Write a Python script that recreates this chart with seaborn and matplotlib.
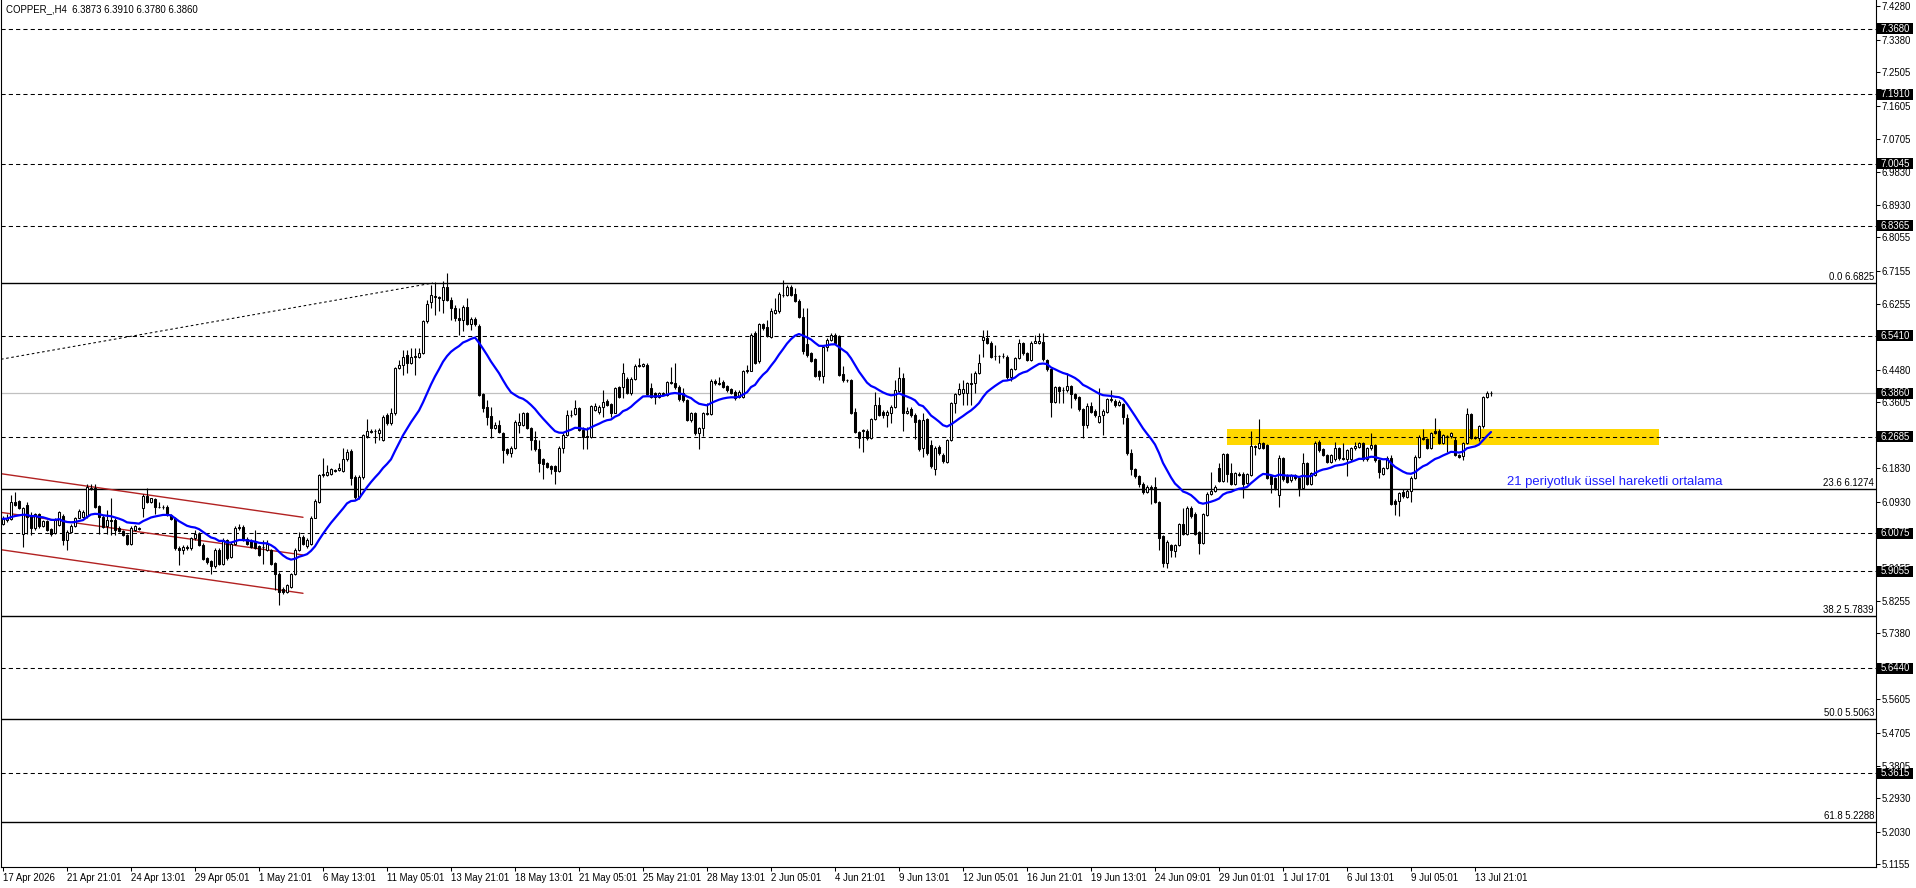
import numpy as np
import pandas as pd
import matplotlib
matplotlib.use("Agg")
import matplotlib.pyplot as plt
import matplotlib.transforms as mtransforms
from matplotlib.patches import Rectangle
import seaborn as sns

# ---------------- data ----------------
symbol_title = "COPPER_,H4  6.3873 6.3910 6.3780 6.3860"

opens = [
    6.034, 6.043, 6.047, 6.093, 6.094, 6.007, 6.084, 6.054, 6.021, 6.059,
    6.028, 6.040, 6.020, 6.009, 6.030, 6.054, 5.991, 6.012, 6.027, 6.050,
    6.052, 6.054, 6.131, 6.129, 6.081, 6.052, 6.027, 6.043, 6.045, 6.023,
    6.014, 6.003, 5.978, 6.016, 6.021, 6.075, 6.108, 6.093, 6.099, 6.080,
    6.079, 6.079, 6.056, 6.048, 5.969, 5.962, 5.970, 5.967, 5.994, 6.007,
    5.977, 5.940, 5.933, 5.919, 5.964, 5.924, 5.989, 5.944, 5.980, 6.022,
    6.025, 5.993, 5.987, 5.985, 5.973, 5.972, 5.962, 5.962, 5.928, 5.899,
    5.859, 5.850, 5.863, 5.897, 5.962, 5.998, 5.973, 5.978, 6.050, 6.093,
    6.165, 6.165, 6.169, 6.179, 6.178, 6.176, 6.207, 6.230, 6.160, 6.106,
    6.160, 6.270, 6.284, 6.284, 6.277, 6.259, 6.327, 6.304, 6.331, 6.453,
    6.462, 6.489, 6.466, 6.485, 6.484, 6.493, 6.579, 6.630, 6.644, 6.645,
    6.637, 6.673, 6.637, 6.615, 6.588, 6.583, 6.617, 6.572, 6.585, 6.567,
    6.383, 6.349, 6.324, 6.293, 6.300, 6.277, 6.234, 6.225, 6.237, 6.300,
    6.300, 6.333, 6.291, 6.259, 6.234, 6.207, 6.196, 6.189, 6.189, 6.176,
    6.239, 6.273, 6.327, 6.329, 6.345, 6.286, 6.269, 6.268, 6.340, 6.336,
    6.349, 6.365, 6.356, 6.333, 6.401, 6.403, 6.423, 6.385, 6.423, 6.461,
    6.459, 6.462, 6.399, 6.387, 6.376, 6.386, 6.381, 6.415, 6.414, 6.403,
    6.387, 6.367, 6.313, 6.333, 6.277, 6.291, 6.329, 6.329, 6.419, 6.413,
    6.417, 6.405, 6.396, 6.390, 6.376, 6.376, 6.444, 6.446, 6.547, 6.471,
    6.572, 6.565, 6.538, 6.601, 6.606, 6.651, 6.651, 6.673, 6.653, 6.635,
    6.592, 6.518, 6.493, 6.477, 6.444, 6.432, 6.509, 6.529, 6.543, 6.540,
    6.437, 6.422, 6.421, 6.336, 6.280, 6.285, 6.284, 6.264, 6.315, 6.354,
    6.336, 6.328, 6.333, 6.349, 6.392, 6.426, 6.333, 6.342, 6.327, 6.313,
    6.237, 6.315, 6.246, 6.180, 6.241, 6.219, 6.201, 6.259, 6.358, 6.383,
    6.387, 6.387, 6.413, 6.412, 6.439, 6.529, 6.534, 6.522, 6.487, 6.486,
    6.487, 6.484, 6.428, 6.450, 6.480, 6.520, 6.493, 6.475, 6.522, 6.522,
    6.524, 6.475, 6.450, 6.363, 6.401, 6.395, 6.394, 6.405, 6.383, 6.374,
    6.342, 6.300, 6.351, 6.338, 6.309, 6.327, 6.336, 6.370, 6.365, 6.354,
    6.356, 6.318, 6.223, 6.180, 6.162, 6.142, 6.120, 6.133, 6.133, 6.093,
    6.000, 5.928, 5.976, 5.960, 5.976, 6.032, 6.007, 6.075, 6.061, 6.012,
    5.982, 6.057, 6.113, 6.122, 6.185, 6.149, 6.221, 6.171, 6.140, 6.168,
    6.169, 6.144, 6.165, 6.242, 6.238, 6.252, 6.246, 6.162, 6.156, 6.111,
    6.210, 6.165, 6.151, 6.165, 6.156, 6.129, 6.198, 6.142, 6.165, 6.255,
    6.234, 6.219, 6.201, 6.207, 6.237, 6.210, 6.207, 6.207, 6.237, 6.241,
    6.252, 6.207, 6.237, 6.246, 6.205, 6.169, 6.183, 6.212, 6.095, 6.095,
    6.120, 6.106, 6.122, 6.158, 6.214, 6.264, 6.261, 6.239, 6.284, 6.284,
    6.252, 6.271, 6.270, 6.259, 6.219, 6.216, 6.252, 6.329, 6.267, 6.266,
    6.297, 6.374, 6.3873,
]

highs = [
    6.054, 6.059, 6.111, 6.120, 6.097, 6.079, 6.093, 6.066, 6.063, 6.063,
    6.045, 6.043, 6.023, 6.048, 6.068, 6.059, 6.016, 6.032, 6.052, 6.072,
    6.070, 6.142, 6.142, 6.142, 6.084, 6.056, 6.070, 6.102, 6.048, 6.027,
    6.018, 6.005, 6.027, 6.030, 6.025, 6.115, 6.129, 6.104, 6.102, 6.093,
    6.084, 6.083, 6.059, 6.052, 5.973, 5.976, 5.976, 5.998, 6.016, 6.011,
    5.982, 5.944, 5.937, 5.967, 5.969, 5.994, 5.993, 5.985, 6.027, 6.032,
    6.030, 5.998, 5.993, 6.016, 5.976, 5.989, 5.991, 5.966, 5.931, 5.903,
    5.863, 5.872, 5.901, 5.967, 6.012, 6.002, 5.994, 6.054, 6.099, 6.169,
    6.210, 6.192, 6.183, 6.182, 6.196, 6.237, 6.234, 6.234, 6.164, 6.165,
    6.276, 6.315, 6.288, 6.290, 6.291, 6.327, 6.331, 6.345, 6.457, 6.475,
    6.502, 6.502, 6.507, 6.507, 6.507, 6.583, 6.637, 6.678, 6.684, 6.648,
    6.687, 6.709, 6.646, 6.624, 6.615, 6.624, 6.642, 6.592, 6.592, 6.572,
    6.387, 6.367, 6.349, 6.309, 6.313, 6.281, 6.237, 6.243, 6.313, 6.331,
    6.336, 6.336, 6.295, 6.284, 6.259, 6.212, 6.201, 6.193, 6.193, 6.243,
    6.277, 6.340, 6.340, 6.367, 6.349, 6.295, 6.295, 6.354, 6.358, 6.353,
    6.394, 6.369, 6.360, 6.403, 6.405, 6.466, 6.430, 6.428, 6.464, 6.480,
    6.468, 6.466, 6.412, 6.390, 6.390, 6.390, 6.419, 6.457, 6.468, 6.408,
    6.399, 6.371, 6.335, 6.336, 6.295, 6.335, 6.360, 6.423, 6.423, 6.430,
    6.421, 6.408, 6.399, 6.393, 6.394, 6.448, 6.462, 6.549, 6.552, 6.576,
    6.576, 6.583, 6.615, 6.642, 6.657, 6.691, 6.678, 6.678, 6.669, 6.639,
    6.615, 6.615, 6.497, 6.480, 6.448, 6.513, 6.534, 6.549, 6.547, 6.543,
    6.459, 6.425, 6.425, 6.345, 6.283, 6.288, 6.288, 6.318, 6.390, 6.376,
    6.339, 6.339, 6.353, 6.421, 6.457, 6.441, 6.349, 6.349, 6.331, 6.317,
    6.331, 6.318, 6.259, 6.243, 6.245, 6.223, 6.263, 6.362, 6.387, 6.412,
    6.421, 6.416, 6.439, 6.444, 6.491, 6.556, 6.556, 6.525, 6.516, 6.489,
    6.495, 6.489, 6.453, 6.483, 6.531, 6.524, 6.497, 6.525, 6.543, 6.547,
    6.547, 6.479, 6.453, 6.405, 6.405, 6.403, 6.441, 6.408, 6.387, 6.378,
    6.345, 6.360, 6.362, 6.342, 6.399, 6.342, 6.372, 6.394, 6.369, 6.367,
    6.360, 6.329, 6.234, 6.183, 6.165, 6.146, 6.138, 6.137, 6.160, 6.095,
    6.003, 5.989, 5.980, 5.980, 6.036, 6.075, 6.081, 6.081, 6.065, 6.015,
    6.063, 6.119, 6.174, 6.137, 6.198, 6.225, 6.225, 6.198, 6.174, 6.172,
    6.173, 6.171, 6.284, 6.246, 6.315, 6.255, 6.249, 6.165, 6.159, 6.219,
    6.214, 6.168, 6.168, 6.168, 6.159, 6.225, 6.201, 6.174, 6.257, 6.259,
    6.237, 6.222, 6.222, 6.255, 6.240, 6.252, 6.236, 6.240, 6.255, 6.255,
    6.255, 6.240, 6.277, 6.249, 6.209, 6.186, 6.216, 6.219, 6.099, 6.120,
    6.126, 6.126, 6.162, 6.218, 6.272, 6.288, 6.264, 6.282, 6.318, 6.288,
    6.276, 6.274, 6.282, 6.268, 6.222, 6.255, 6.345, 6.333, 6.271, 6.300,
    6.378, 6.392, 6.3910,
]

lows = [
    6.029, 6.039, 6.045, 6.081, 6.072, 5.971, 6.007, 6.003, 6.016, 6.023,
    6.025, 6.013, 6.000, 6.005, 6.027, 5.976, 5.962, 6.009, 6.025, 6.048,
    6.050, 6.050, 6.124, 6.075, 6.007, 6.021, 6.007, 6.003, 6.003, 6.012,
    6.000, 5.976, 5.976, 6.013, 6.016, 6.052, 6.090, 6.090, 6.061, 6.075,
    6.074, 6.054, 6.043, 5.964, 5.922, 5.953, 5.964, 5.964, 5.991, 5.973,
    5.935, 5.926, 5.899, 5.915, 5.922, 5.922, 5.937, 5.940, 5.977, 6.016,
    5.986, 5.976, 5.967, 5.966, 5.946, 5.926, 5.959, 5.923, 5.854, 5.814,
    5.845, 5.847, 5.861, 5.895, 5.959, 5.977, 5.969, 5.976, 6.048, 6.090,
    6.160, 6.162, 6.166, 6.174, 6.175, 6.174, 6.203, 6.138, 6.100, 6.099,
    6.155, 6.266, 6.277, 6.250, 6.259, 6.256, 6.301, 6.301, 6.328, 6.450,
    6.435, 6.439, 6.463, 6.435, 6.481, 6.490, 6.576, 6.615, 6.597, 6.606,
    6.601, 6.634, 6.583, 6.579, 6.543, 6.552, 6.570, 6.556, 6.567, 6.378,
    6.336, 6.300, 6.264, 6.288, 6.277, 6.198, 6.219, 6.214, 6.234, 6.277,
    6.297, 6.288, 6.232, 6.230, 6.174, 6.153, 6.183, 6.169, 6.142, 6.174,
    6.225, 6.270, 6.322, 6.327, 6.283, 6.234, 6.234, 6.264, 6.337, 6.329,
    6.322, 6.351, 6.320, 6.331, 6.372, 6.372, 6.382, 6.381, 6.421, 6.455,
    6.456, 6.380, 6.373, 6.356, 6.373, 6.381, 6.378, 6.410, 6.398, 6.365,
    6.363, 6.310, 6.309, 6.274, 6.234, 6.270, 6.327, 6.327, 6.408, 6.408,
    6.399, 6.390, 6.383, 6.368, 6.372, 6.373, 6.441, 6.444, 6.463, 6.468,
    6.556, 6.536, 6.535, 6.598, 6.603, 6.646, 6.648, 6.648, 6.630, 6.587,
    6.491, 6.484, 6.470, 6.428, 6.421, 6.414, 6.498, 6.526, 6.518, 6.432,
    6.417, 6.416, 6.329, 6.277, 6.237, 6.228, 6.259, 6.261, 6.313, 6.324,
    6.318, 6.295, 6.304, 6.346, 6.390, 6.284, 6.329, 6.322, 6.261, 6.230,
    6.214, 6.219, 6.185, 6.165, 6.219, 6.196, 6.198, 6.256, 6.333, 6.381,
    6.354, 6.354, 6.354, 6.385, 6.436, 6.484, 6.518, 6.480, 6.475, 6.466,
    6.480, 6.425, 6.419, 6.447, 6.477, 6.489, 6.471, 6.471, 6.520, 6.518,
    6.473, 6.446, 6.320, 6.360, 6.358, 6.360, 6.390, 6.345, 6.367, 6.338,
    6.264, 6.293, 6.331, 6.322, 6.306, 6.273, 6.333, 6.363, 6.349, 6.351,
    6.302, 6.220, 6.165, 6.158, 6.133, 6.115, 6.117, 6.086, 6.090, 5.962,
    5.917, 5.915, 5.944, 5.944, 5.973, 6.003, 6.003, 6.050, 6.003, 5.953,
    5.978, 6.054, 6.110, 6.120, 6.146, 6.146, 6.146, 6.138, 6.138, 6.163,
    6.102, 6.140, 6.162, 6.219, 6.236, 6.235, 6.155, 6.117, 6.125, 6.079,
    6.149, 6.143, 6.147, 6.152, 6.108, 6.126, 6.138, 6.138, 6.162, 6.228,
    6.215, 6.197, 6.197, 6.203, 6.206, 6.205, 6.162, 6.203, 6.233, 6.237,
    6.203, 6.203, 6.233, 6.201, 6.156, 6.165, 6.180, 6.084, 6.057, 6.054,
    6.104, 6.102, 6.093, 6.155, 6.210, 6.259, 6.236, 6.236, 6.275, 6.248,
    6.248, 6.228, 6.266, 6.215, 6.210, 6.205, 6.248, 6.263, 6.262, 6.256,
    6.293, 6.372, 6.3780,
]

closes = [
    6.047, 6.050, 6.093, 6.084, 6.075, 6.075, 6.052, 6.021, 6.059, 6.027,
    6.040, 6.016, 6.007, 6.043, 6.066, 5.991, 6.012, 6.028, 6.048, 6.068,
    6.066, 6.133, 6.128, 6.079, 6.052, 6.025, 6.043, 6.041, 6.018, 6.014,
    6.003, 5.978, 6.023, 6.027, 6.020, 6.108, 6.093, 6.102, 6.079, 6.078,
    6.078, 6.057, 6.047, 5.967, 5.962, 5.971, 5.968, 5.994, 6.007, 5.976,
    5.938, 5.931, 5.919, 5.964, 5.924, 5.989, 5.940, 5.980, 6.021, 6.024,
    5.989, 5.980, 5.971, 5.969, 5.949, 5.970, 5.978, 5.926, 5.899, 5.850,
    5.850, 5.868, 5.897, 5.962, 5.998, 5.980, 5.989, 6.050, 6.095, 6.165,
    6.169, 6.174, 6.180, 6.177, 6.185, 6.207, 6.228, 6.158, 6.105, 6.160,
    6.273, 6.283, 6.282, 6.283, 6.286, 6.322, 6.304, 6.333, 6.453, 6.462,
    6.484, 6.466, 6.484, 6.483, 6.495, 6.579, 6.626, 6.651, 6.648, 6.643,
    6.673, 6.637, 6.615, 6.588, 6.583, 6.617, 6.572, 6.585, 6.572, 6.381,
    6.345, 6.322, 6.291, 6.300, 6.282, 6.232, 6.225, 6.238, 6.309, 6.309,
    6.333, 6.291, 6.259, 6.234, 6.196, 6.194, 6.187, 6.180, 6.176, 6.239,
    6.273, 6.327, 6.326, 6.345, 6.286, 6.268, 6.267, 6.351, 6.351, 6.349,
    6.363, 6.354, 6.333, 6.399, 6.374, 6.439, 6.385, 6.423, 6.459, 6.459,
    6.464, 6.383, 6.376, 6.374, 6.385, 6.384, 6.417, 6.413, 6.401, 6.369,
    6.367, 6.313, 6.331, 6.277, 6.291, 6.331, 6.333, 6.419, 6.412, 6.411,
    6.403, 6.394, 6.387, 6.372, 6.390, 6.444, 6.448, 6.543, 6.466, 6.572,
    6.561, 6.540, 6.606, 6.610, 6.653, 6.650, 6.671, 6.651, 6.633, 6.590,
    6.498, 6.489, 6.473, 6.432, 6.432, 6.509, 6.529, 6.543, 6.522, 6.435,
    6.421, 6.420, 6.333, 6.280, 6.264, 6.283, 6.264, 6.315, 6.354, 6.327,
    6.327, 6.336, 6.349, 6.394, 6.426, 6.333, 6.338, 6.327, 6.309, 6.234,
    6.313, 6.223, 6.189, 6.239, 6.223, 6.203, 6.259, 6.358, 6.383, 6.396,
    6.396, 6.412, 6.411, 6.441, 6.466, 6.536, 6.522, 6.482, 6.485, 6.485,
    6.485, 6.428, 6.450, 6.480, 6.520, 6.493, 6.475, 6.522, 6.525, 6.527,
    6.477, 6.450, 6.363, 6.401, 6.392, 6.393, 6.405, 6.383, 6.372, 6.342,
    6.300, 6.351, 6.336, 6.327, 6.324, 6.338, 6.369, 6.368, 6.354, 6.363,
    6.322, 6.223, 6.180, 6.162, 6.142, 6.120, 6.133, 6.126, 6.093, 5.996,
    5.928, 5.985, 5.962, 5.976, 6.032, 6.007, 6.075, 6.054, 6.007, 5.982,
    6.059, 6.115, 6.122, 6.133, 6.149, 6.221, 6.169, 6.142, 6.171, 6.166,
    6.142, 6.167, 6.243, 6.240, 6.252, 6.238, 6.158, 6.142, 6.129, 6.210,
    6.153, 6.147, 6.165, 6.156, 6.129, 6.198, 6.142, 6.171, 6.252, 6.232,
    6.219, 6.201, 6.219, 6.237, 6.210, 6.209, 6.232, 6.237, 6.243, 6.252,
    6.207, 6.237, 6.246, 6.205, 6.174, 6.183, 6.212, 6.088, 6.088, 6.117,
    6.108, 6.122, 6.158, 6.214, 6.268, 6.263, 6.239, 6.279, 6.279, 6.252,
    6.273, 6.269, 6.279, 6.219, 6.214, 6.252, 6.329, 6.266, 6.265, 6.297,
    6.374, 6.387, 6.3860,
]

time_labels = [
    "17 Apr 2026", "21 Apr 21:01", "24 Apr 13:01", "29 Apr 05:01", "1 May 21:01",
    "6 May 13:01", "11 May 05:01", "13 May 21:01", "18 May 13:01", "21 May 05:01",
    "25 May 21:01", "28 May 13:01", "2 Jun 05:01", "4 Jun 21:01", "9 Jun 13:01",
    "12 Jun 05:01", "16 Jun 21:01", "19 Jun 13:01", "24 Jun 09:01", "29 Jun 01:01",
    "1 Jul 17:01", "6 Jul 13:01", "9 Jul 05:01", "13 Jul 21:01",
]
label_step = 16

price_ticks = [7.4280, 7.3380, 7.2505, 7.1605, 7.0705, 6.9830, 6.8930, 6.8055,
               6.7155, 6.6255, 6.5355, 6.4480, 6.3605, 6.2705, 6.1830, 6.0930,
               6.0055, 5.9155, 5.8255, 5.7380, 5.6480, 5.5605, 5.4705, 5.3805,
               5.2930, 5.2030, 5.1155]

dashed_levels = [7.3680, 7.1910, 7.0045, 6.8365, 6.5410, 6.2685,
                 6.0075, 5.9055, 5.6440, 5.3615]
fib_levels = [6.6825, 6.1274, 5.7839, 5.5063, 5.2288]
fib_names = ["0.0", "23.6", "38.2", "50.0", "61.8"]
last_price = 6.3860

channel_x = [-0.5, 75]
channel_upper = [6.1685, 6.0510]
channel_mid = [6.0642, 5.9494]
channel_lower = [5.9636, 5.8461]

fib_trend_x = [-0.5, 107.5]
fib_trend_y = [6.4770, 6.6825]

zone_x = [306, 414]
zone_low, zone_high = 6.2467, 6.2890

ema_period = 21
ema_note = "21 periyotluk üssel hareketli ortalama"
ema_note_pos = (376, 6.146)

# ---------------- drawing ----------------
sns.set_theme(style="white")
plt.rcParams["font.family"] = ["Liberation Sans", "DejaVu Sans"]
FS = 6.9

W, H = 1916, 888
fig = plt.figure(figsize=(W / 100, H / 100), dpi=100)
fig.patch.set_facecolor("white")
ax = fig.add_axes([1 / W, 21 / H, 1875 / W, 867 / H])
ax.set_facecolor("white")

o = np.array(opens)
h = np.array(highs)
l = np.array(lows)
c = np.array(closes)
n = len(c)
idx = np.arange(n)

ax.set_xlim(-0.5, 468.25)
ax.set_ylim(5.1083, 7.4454)

# yellow zone
ax.fill_between(zone_x, zone_low, zone_high, color="#FFD700", lw=0, zorder=1)

# horizontal levels
for lv in dashed_levels:
    ax.axhline(lv, color="black", lw=0.75, ls=(0, (4, 3)), zorder=2)
for lv in fib_levels:
    ax.axhline(lv, color="black", lw=1.0, zorder=2)
ax.axhline(last_price, color="#C0C0C0", lw=0.9, zorder=2)

# channel + fib trend line
for arr in (channel_upper, channel_mid, channel_lower):
    ax.plot(channel_x, arr, color="#B22222", lw=1.0, zorder=2.5)
ax.plot(fib_trend_x, fib_trend_y, color="black", lw=0.75, ls=(0, (2.5, 2.5)), zorder=2.5)

# candles
ax.vlines(idx, l, h, color="black", lw=0.8, zorder=3)
up = c >= o
bottom = np.minimum(o, c)
height = np.abs(c - o)
ax.bar(idx[up], height[up], bottom=bottom[up], width=0.5, color="white",
       edgecolor="black", linewidth=0.75, zorder=3.5)
ax.bar(idx[~up], height[~up], bottom=bottom[~up], width=0.5, color="black",
       edgecolor="black", linewidth=0.75, zorder=3.5)

# EMA 21
ema = pd.Series(c).ewm(span=ema_period, adjust=False).mean()
sns.lineplot(x=idx, y=ema.values, color="#0000FF", linewidth=1.6, ax=ax,
             legend=False, zorder=4)
ax.set_xlabel("")
ax.set_ylabel("")

ax.text(ema_note_pos[0], ema_note_pos[1], ema_note, color="#1E1EFF",
        fontsize=9.4, ha="left", va="center", zorder=5)

# fib labels
trans = mtransforms.blended_transform_factory(ax.transAxes, ax.transData)
px_x = 1 / 1875
px_y = (7.4454 - 5.1083) / 867
for name, lv in zip(fib_names, fib_levels):
    ax.text(1 - 2 * px_x, lv + 1 * px_y, f"{name} {lv:.4f}", transform=trans,
            fontsize=FS, ha="right", va="bottom", color="black", zorder=5)

# axes styling
for s in ("left", "bottom", "right"):
    ax.spines[s].set_color("black")
    ax.spines[s].set_linewidth(0.8)
ax.spines["top"].set_visible(False)

# tick labels fully hidden under the price boxes are left blank
box_levels = dashed_levels + [last_price]
ylabels = []
for v in price_ticks:
    hidden = any(abs(v - b) < 3.5 * px_y for b in box_levels)
    ylabels.append("" if hidden else f"{v:.4f}")
ax.yaxis.tick_right()
ax.set_yticks(price_ticks)
ax.set_yticklabels(ylabels)
ax.tick_params(axis="y", left=False, right=True, length=2.9, width=0.75,
               pad=1.2, labelsize=FS, colors="black")

tick_pos = list(range(0, n, label_step))[:len(time_labels)]
ax.set_xticks(tick_pos)
ax.set_xticklabels(time_labels, ha="left")
ax.tick_params(axis="x", bottom=True, length=2.9, width=0.75, pad=1.5,
               labelsize=FS, colors="black")
ax.grid(False)

# price boxes on the right axis
for lv in box_levels:
    ax.add_patch(Rectangle((1 + 1 * px_x, lv - 5.5 * px_y), 36 * px_x, 11 * px_y,
                           transform=trans, facecolor="black", edgecolor="none",
                           clip_on=False, zorder=6))
    ax.text(1 + 19 * px_x, lv, f"{lv:.4f}", transform=trans, color="white",
            fontsize=FS, ha="center", va="center", clip_on=False, zorder=7)

fig.text(6 / W, 1 - 9 / H, symbol_title, fontsize=FS, ha="left", va="center",
         color="black")

fig.savefig("out.png", dpi=100, facecolor="white")
